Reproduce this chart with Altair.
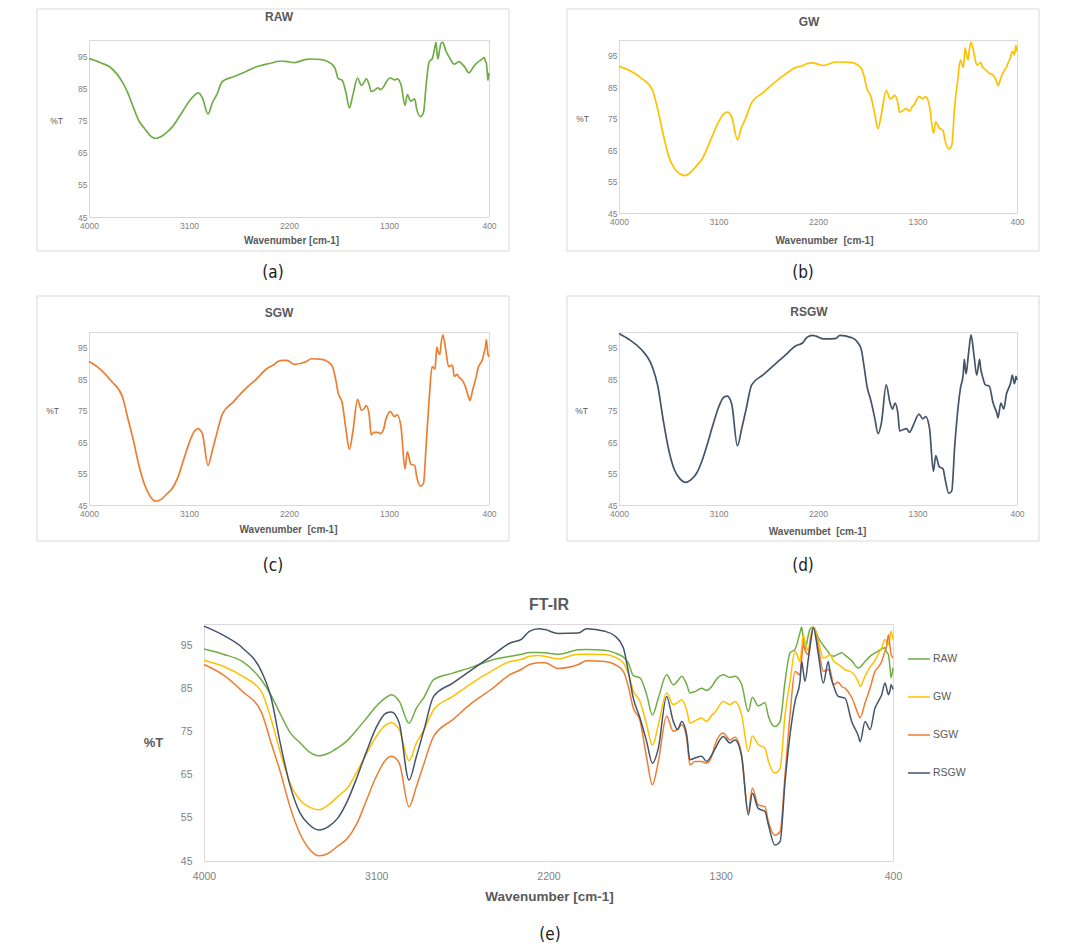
import altair as alt
import pandas as pd

# ---------------- data ----------------
WAVENUMBER = [4000, 3900, 3800, 3700, 3650, 3600, 3550, 3500, 3450, 3400,
              3350, 3300, 3250, 3200, 3150, 3100, 3050, 3020, 2980, 2929,
              2890, 2850, 2800, 2700, 2600, 2500, 2400, 2340, 2300, 2250,
              2218, 2150, 2044, 2001, 1905, 1853, 1809, 1783, 1757, 1722,
              1687, 1657, 1626, 1583, 1548, 1525, 1504, 1478, 1461, 1435,
              1400, 1374, 1347, 1330, 1287, 1252, 1226, 1191, 1156, 1135,
              1104, 1069, 1051, 1017, 990, 964, 938, 912, 886, 877,
              869, 860, 842, 834, 816, 790, 764, 738, 729, 712,
              686, 668, 651, 616, 581, 572, 546, 520, 494, 477,
              459, 442, 433, 424, 416, 410, 400]

RAW = [94.2, 93.0, 91.3, 87.0, 83.5, 79.0, 74.8, 72.5, 70.3, 69.4,
       70.0, 71.3, 73.0, 75.5, 78.2, 80.9, 82.9, 83.6, 82.1, 77.0,
       80.5, 83.0, 87.1, 88.6, 90.0, 91.6, 92.5, 93.0, 93.4, 93.4,
       93.3, 93.0, 94.0, 94.1, 93.9, 93.3, 92.3, 91.0, 88.0, 87.5,
       83.6, 78.9, 82.8, 88.2, 85.9, 86.8, 87.9, 86.0, 84.0, 84.3,
       85.1, 84.6, 85.5, 86.7, 88.2, 87.6, 87.9, 86.0, 79.7, 83.0,
       81.0, 81.7, 78.6, 76.2, 77.4, 86.7, 93.3, 94.1, 98.0, 99.3,
       96.5, 94.1, 97.5, 98.8, 99.3, 96.8, 95.0, 93.5, 92.9, 92.5,
       93.0, 93.3, 92.8, 91.5, 89.8, 90.0, 91.3, 92.5, 93.3, 93.7,
       94.2, 94.5, 93.5, 92.9, 90.0, 87.5, 89.8]

GW = [91.6, 90.2, 87.9, 84.3, 78.0, 70.0, 63.0, 59.2, 57.5, 56.9,
      58.0, 60.0, 62.0, 65.8, 70.0, 73.9, 76.6, 77.1, 75.5, 68.3,
      72.4, 75.5, 80.1, 83.2, 86.3, 89.0, 91.3, 91.8, 92.5, 92.7,
      92.5, 91.9, 93.0, 93.0, 92.9, 92.3, 91.0, 88.5, 84.5, 82.0,
      76.6, 71.8, 76.6, 84.0, 81.3, 81.8, 82.4, 80.0, 77.0, 77.5,
      78.2, 77.4, 78.8, 79.5, 82.0, 81.3, 82.0, 78.9, 70.4, 74.0,
      72.0, 71.2, 68.1, 65.4, 66.5, 78.9, 86.7, 93.7, 91.3, 94.5,
      97.5, 96.0, 93.7, 96.0, 99.3, 96.0, 92.1, 92.6, 92.9, 91.5,
      90.6, 90.0, 89.4, 88.8, 86.5, 85.5, 87.9, 90.0, 91.5, 93.0,
      94.5, 96.4, 96.0, 95.2, 97.0, 98.3, 96.4]

SGW = [90.6, 88.2, 84.4, 79.5, 72.5, 65.5, 57.5, 51.5, 47.8, 46.2,
       46.8, 48.5, 50.3, 53.8, 59.2, 64.6, 68.5, 69.3, 67.7, 57.6,
       62.3, 67.7, 73.9, 77.8, 81.7, 84.8, 88.3, 89.5, 90.6, 91.0,
       91.0, 89.7, 90.6, 91.5, 91.3, 90.6, 89.0, 85.5, 80.5, 77.6,
       68.9, 62.7, 68.1, 78.6, 75.1, 75.6, 76.6, 73.5, 67.3, 68.1,
       68.1, 67.7, 69.3, 72.0, 74.7, 73.1, 73.7, 69.6, 56.5, 61.9,
       58.0, 57.6, 54.1, 51.0, 51.8, 65.0, 78.9, 89.0, 88.2, 92.0,
       95.2, 94.0, 92.9, 95.5, 99.1, 94.5, 89.0, 89.4, 89.4, 85.9,
       86.5, 85.5, 85.1, 83.0, 79.0, 78.2, 81.7, 85.1, 89.0, 90.0,
       91.3, 93.7, 95.0, 97.5, 95.0, 93.0, 92.1]

RSGW = [99.5, 97.4, 94.5, 89.0, 83.0, 72.0, 62.5, 56.3, 53.4, 52.2,
        53.0, 55.0, 59.0, 64.5, 70.5, 76.0, 79.3, 79.6, 77.0, 63.8,
        69.3, 75.5, 83.2, 86.3, 89.4, 92.5, 95.6, 96.5, 98.3, 98.9,
        98.7, 97.8, 97.9, 98.9, 98.3, 97.2, 94.5, 89.0, 82.8, 78.2,
        72.7, 67.7, 71.2, 83.2, 77.4, 75.5, 77.4, 74.3, 68.5, 68.9,
        69.3, 68.1, 69.6, 71.0, 73.9, 72.4, 73.1, 69.3, 55.7, 60.7,
        57.2, 56.5, 53.4, 48.7, 49.5, 63.4, 74.3, 82.0, 86.7, 91.3,
        89.0, 86.7, 92.0, 94.5, 99.1, 92.9, 86.3, 91.3, 88.5, 85.9,
        83.2, 83.0, 82.8, 77.4, 74.0, 72.7, 77.4, 75.5, 80.5, 82.0,
        83.6, 86.3, 85.0, 83.6, 84.5, 85.9, 84.8]

SERIES = ["RAW", "GW", "SGW", "RSGW"]
COLORS = ["#70AD47", "#FFC000", "#ED7D31", "#44546A"]
X_TICKS = [4000, 3100, 2200, 1300, 400]
Y_TICKS = [45, 55, 65, 75, 85, 95]

frames = []
for name, vals in zip(SERIES, [RAW, GW, SGW, RSGW]):
    frames.append(pd.DataFrame({"wavenumber": WAVENUMBER, "T": vals, "series": name}))
data = pd.concat(frames, ignore_index=True)
one = pd.DataFrame({"k": [0]})

FONT = "Liberation Sans"
CAPFONT = "Liberation Sans Narrow, DejaVu Sans Condensed, Liberation Sans"
LABEL_GRAY = "#7f7f7f"
TEXT_GRAY = "#595959"
FRAME_GRAY = "#d9d9d9"
CELL_BOTTOM = 252   # invisible bounding box bottom of the small panels

xscale = alt.Scale(domain=[400, 4000], reverse=True, nice=False, zero=False)
yscale = alt.Scale(domain=[45, 100], nice=False, zero=False)


def small_panel(name, color, w, h, title_y, xtitle, xtitle_x, xtitle_y,
                ytitle_x, caption, frame_top, frame_bottom, cap_y):
    sub = data[data["series"] == name]
    line = alt.Chart(sub).mark_line(color=color, strokeWidth=1.7, interpolate="monotone").encode(
        x=alt.X("wavenumber:Q", scale=xscale,
                axis=alt.Axis(values=X_TICKS, format="d", title=xtitle, grid=False, ticks=False,
                              tickSize=0, domain=False, labelFontSize=8.5,
                              labelColor=LABEL_GRAY, labelPadding=4, labelFlush=False,
                              labelOverlap=False, titleFontSize=10, titleFontWeight="bold",
                              titleColor=TEXT_GRAY, titleX=xtitle_x, titleY=xtitle_y,
                              titleAlign="center", titleBaseline="middle")),
        y=alt.Y("T:Q", scale=yscale,
                axis=alt.Axis(values=Y_TICKS, title="%T", grid=False, ticks=False, tickSize=0,
                              domain=False, labelFontSize=8.5, labelColor=LABEL_GRAY,
                              labelPadding=2, labelFlush=False, labelOverlap=False,
                              titleAngle=0, titleX=ytitle_x, titleY=h * 25 / 55,
                              titleAlign="center", titleBaseline="middle",
                              titleFontSize=8.5, titleFontWeight="normal", titleColor=TEXT_GRAY)),
    )
    bounds_rect = alt.Chart(one).mark_rect(fill="transparent", strokeWidth=0).encode(
        x=alt.value(-52), x2=alt.value(420), y=alt.value(frame_top), y2=alt.value(CELL_BOTTOM))
    frame = alt.Chart(one).mark_rect(fill="transparent", stroke=FRAME_GRAY, strokeWidth=1).encode(
        x=alt.value(-52), x2=alt.value(420), y=alt.value(frame_top), y2=alt.value(frame_bottom))
    ttl = alt.Chart(one).mark_text(text=name, font=FONT, fontSize=12, fontWeight="bold",
                                   color=TEXT_GRAY, align="center", baseline="middle").encode(
        x=alt.value(190), y=alt.value(title_y))
    cap = alt.Chart(one).mark_text(text=caption, font=CAPFONT, fontSize=17, color="#1a1a1a",
                                   align="center", baseline="middle").encode(
        x=alt.value(184), y=alt.value(cap_y))
    return alt.layer(bounds_rect, frame, line, ttl, cap).properties(width=w, height=h)


pa = small_panel("RAW", COLORS[0], 400, 177, -23, "Wavenumber [cm-1]", 202, 23, -33,
                 "(a)", -31, 211, 233)
pb = small_panel("GW", COLORS[1], 398, 173, -18, "Wavenumber\u00a0 [cm-1]", 205, 27, -37,
                 "(b)", -31, 211, 233)
pc = small_panel("SGW", COLORS[2], 400, 173, -19, "Wavenumber\u00a0 [cm-1]", 199, 24, -37,
                 "(c)", -36, 209, 234)
pd_ = small_panel("RSGW", COLORS[3], 398, 173, -20, "Wavenumbet\u00a0 [cm-1]", 198, 26, -38,
                  "(d)", -36, 209, 234)

# ---------------- combined panel (e) ----------------
EH = 237
e_line = alt.Chart(data).mark_line(strokeWidth=1.5, interpolate="monotone").encode(
    x=alt.X("wavenumber:Q", scale=xscale,
            axis=alt.Axis(values=X_TICKS, format="d", title="Wavenumber [cm-1]", grid=False,
                          ticks=False, tickSize=0, domain=False, labelFontSize=10.5,
                          labelColor=LABEL_GRAY, labelPadding=10, labelFlush=False,
                          labelOverlap=False, titleFontSize=13.5, titleFontWeight="bold",
                          titleColor=TEXT_GRAY, titleX=345, titleY=35, titleAlign="center",
                          titleBaseline="middle")),
    y=alt.Y("T:Q", scale=yscale,
            axis=alt.Axis(values=Y_TICKS, title="%T", grid=False, ticks=False, tickSize=0,
                          domain=False, labelFontSize=10.5, labelColor=LABEL_GRAY,
                          labelPadding=12, labelFlush=False, labelOverlap=False,
                          titleAngle=0, titleX=-51, titleY=118, titleAlign="center",
                          titleBaseline="middle", titleFontSize=13, titleFontWeight="bold",
                          titleColor=TEXT_GRAY)),
    color=alt.Color("series:N", scale=alt.Scale(domain=SERIES, range=COLORS),
                    legend=alt.Legend(orient="none", legendX=703, legendY=23, title=None,
                                      symbolType="stroke", symbolSize=484,
                                      symbolStrokeWidth=1.5, labelFontSize=10.5,
                                      labelColor=TEXT_GRAY, labelFont=FONT, rowPadding=20,
                                      labelOffset=2, padding=0)),
)
e_bounds = alt.Chart(one).mark_rect(fill="transparent", strokeWidth=0).encode(
    x=alt.value(-110), x2=alt.value(770), y=alt.value(-36), y2=alt.value(300))
e_title = alt.Chart(one).mark_text(text="FT-IR", font=FONT, fontSize=16, fontWeight="bold",
                                   color=TEXT_GRAY, align="center", baseline="middle").encode(
    x=alt.value(345), y=alt.value(-19))
e_cap = alt.Chart(one).mark_text(text="(e)", font=CAPFONT, fontSize=17, color="#1a1a1a",
                                 align="center", baseline="middle").encode(
    x=alt.value(346), y=alt.value(311))
pe = alt.layer(e_bounds, e_line, e_title, e_cap).properties(width=689, height=EH)

spacer = alt.Chart(one).mark_point(opacity=0).encode(
    x=alt.value(0), y=alt.value(0)
).properties(width=1, height=1, view=alt.ViewBackground(stroke="transparent"))

row1 = alt.hconcat(pa, pb, spacing=56)
row2 = alt.hconcat(pc, pd_, spacing=56)
rowE = alt.hconcat(spacer, pe, spacing=0).resolve_legend(color="independent")

chart = alt.vconcat(row1, row2, rowE, spacing=2).resolve_legend(color="independent").properties(
    padding={"left": 28, "top": 0, "right": 0, "bottom": 0}
).configure(font=FONT).configure_view(stroke=FRAME_GRAY, strokeWidth=1)

chart.save("out.html", embed_options={"renderer": "svg", "actions": False})
